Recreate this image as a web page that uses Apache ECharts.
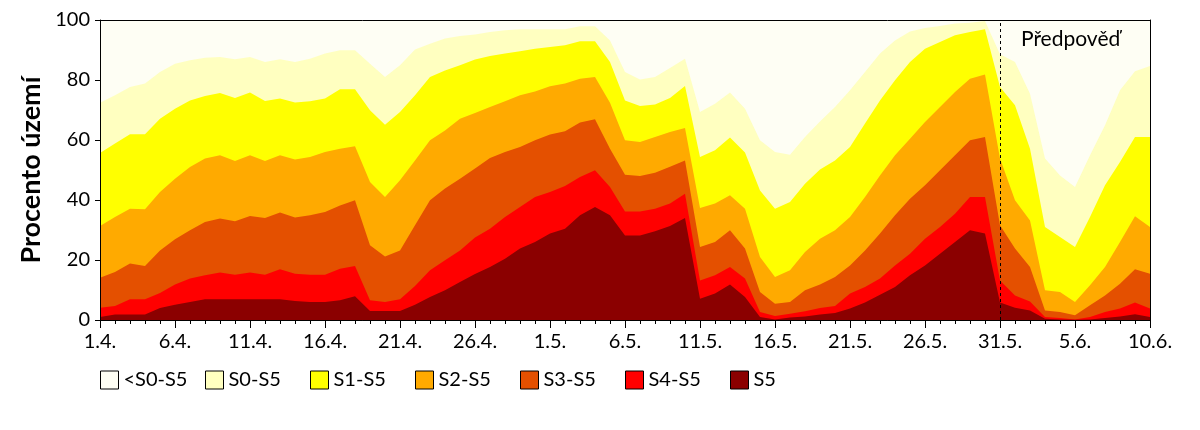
<!DOCTYPE html>
<html>
<head>
<meta charset="utf-8">
<title>Procento území</title>
<script src="https://cdn.jsdelivr.net/npm/echarts@6/dist/echarts.min.js"></script>
<style>
html,body{margin:0;padding:0;background:#fff;}
#main{width:1200px;height:430px;}
</style>
</head>
<body>
<div id="main"></div>
<script>
// dny 1.4. - 10.6.
var dates = ['1.4.','2.4.','3.4.','4.4.','5.4.','6.4.','7.4.','8.4.','9.4.','10.4.',
	'11.4.','12.4.','13.4.','14.4.','15.4.','16.4.','17.4.','18.4.','19.4.','20.4.',
	'21.4.','22.4.','23.4.','24.4.','25.4.','26.4.','27.4.','28.4.','29.4.','30.4.',
	'1.5.','2.5.','3.5.','4.5.','5.5.','6.5.','7.5.','8.5.','9.5.','10.5.',
	'11.5.','12.5.','13.5.','14.5.','15.5.','16.5.','17.5.','18.5.','19.5.','20.5.',
	'21.5.','22.5.','23.5.','24.5.','25.5.','26.5.','27.5.','28.5.','29.5.','30.5.',
	'31.5.','1.6.','2.6.','3.6.','4.6.','5.6.','6.6.','7.6.','8.6.','9.6.',
	'10.6.']

// procento uzemi (kumulativne)
var belowS0 = [100,100,100,100,100,100,100,100,100,100, 100,100,100,100,100,100,100,100,100,100,
	100,100,100,100,100,100,100,100,100,100, 100,100,100,100,100,100,100,100,100,100,
	100,100,100,100,100,100,100,100,100,100, 100,100,100,100,100,100,100,100,100,100,
	100,100,100,100,100,100,100,100,100,100, 100]
var s0 = [72.4,74.9,77.7,78.8,82.7,85.4,86.6,87.4,87.7,86.9, 87.7,86.0,86.9,86.0,87.1,88.8,89.9,89.9,85.4,81.0,
	84.9,90.2,92.1,93.8,94.7,95.2,96.0,96.6,96.9,96.9, 96.9,96.9,97.9,97.9,93.2,82.7,80.2,81.0,84.0,87.1,
	69.3,72.1,75.8,70.4,59.9,56.0,55.1,61.0,66.2,71.0, 76.6,82.7,88.8,93.2,96.2,97.3,98.0,98.8,99.1,99.7,
	88.6,86.0,75.4,53.8,48.2,44.3,54.9,64.9,76.6,82.9, 84.7]
var s1 = [55.7,58.8,61.9,61.9,67.1,70.4,73.2,74.7,75.7,74.0, 75.8,73.0,73.8,72.5,72.9,73.8,76.9,76.9,69.9,65.1,
	69.3,74.9,81.0,83.2,84.9,86.8,88.0,88.8,89.6,90.4, 91.0,91.6,92.9,92.9,86.0,73.2,71.3,71.8,74.0,78.0,
	54.3,56.6,60.8,55.8,43.2,37.1,39.3,45.4,50.2,53.2, 57.7,65.5,73.2,79.9,86.0,90.4,92.7,94.9,96.0,96.9,
	77.7,71.6,57.1,31.0,27.7,24.3,34.3,44.9,52.7,61.0, 61.0]
var s2 = [31.3,34.3,37.1,36.9,42.7,47.1,51.0,53.8,54.9,53.0, 54.9,53.0,54.9,53.5,54.3,56.0,57.1,57.9,46.0,41.0,
	46.6,53.2,59.9,63.2,67.1,69.0,71.0,72.9,74.9,76.2, 77.9,78.8,80.4,81.0,72.4,59.9,59.3,61.0,62.7,64.0,
	37.3,38.8,41.6,37.1,21.0,14.3,16.6,22.7,27.1,29.9, 34.3,41.0,48.2,54.9,60.4,66.0,71.0,76.0,80.4,81.8,
	53.8,39.9,33.2,9.9,9.3,6.0,11.6,17.7,26.0,34.6, 31.0]
var s3 = [14.1,16.0,18.8,18.0,23.2,26.9,29.9,32.7,33.8,32.9, 34.7,34.0,35.8,34.2,34.9,36.0,38.2,39.9,24.9,21.2,
	23.2,31.6,39.9,43.8,47.1,50.5,54.0,56.0,57.7,59.9, 61.8,62.9,65.8,66.9,57.1,48.4,48.0,49.1,51.1,53.2,
	24.3,26.0,29.9,23.8,9.3,5.4,6.0,9.9,11.8,14.3, 18.2,23.2,28.8,34.9,40.4,44.9,49.9,54.9,59.9,61.0,
	31.6,23.8,17.7,3.2,2.7,1.6,4.9,8.2,12.1,16.9, 15.4]
var s4 = [4.1,4.7,6.9,6.9,9.0,11.8,13.8,14.9,15.8,15.1, 15.8,15.1,16.9,15.4,15.1,15.1,17.1,18.0,6.6,6.0,
	6.9,11.3,16.6,19.9,23.2,27.5,30.4,34.3,37.7,41.0, 42.7,44.7,47.7,49.9,44.3,36.2,36.2,37.1,38.8,42.1,
	13.2,14.9,17.7,13.8,2.7,1.3,2.1,2.9,4.0,4.7, 8.8,11.0,13.8,18.2,22.1,27.1,31.0,35.4,41.0,41.0,
	13.2,8.2,6.2,1.0,0.7,0.2,1.0,2.7,3.8,5.8, 3.8]
var s5 = [1.0,1.8,1.8,1.8,4.0,5.1,6.0,6.9,6.9,6.9, 6.9,6.9,6.9,6.3,6.0,6.0,6.6,7.9,3.0,3.0,
	3.0,5.1,7.7,9.9,12.7,15.3,17.7,20.4,23.8,26.0, 28.8,30.4,34.9,37.7,34.9,28.2,28.2,29.6,31.3,34.0,
	7.1,8.8,11.8,7.7,1.0,0.2,0.8,1.2,1.8,2.3, 3.8,5.8,8.4,11.0,14.9,18.2,22.1,26.0,29.9,28.8,
	5.8,4.1,3.2,0.4,0.2,0.1,0.2,0.7,1.2,1.9, 1.0]

var names = ['<S0-S5','S0-S5','S1-S5','S2-S5','S3-S5','S4-S5','S5']
var colors = ['#FEFEF4','#FFFFC0','#FFFF00','#FFAA00','#E45000','#FF0000','#8B0000']
var forecastFrom = '31.5.'
var forecastLabel = 'Předpověď'
var yName = 'Procento území'

var chart = echarts.init(document.getElementById('main'))
var values = [belowS0, s0, s1, s2, s3, s4, s5]
var font = 'Lato'
var series = []
var legends = []
for(var i=0;i<values.length;i++){
	series.push({
		name:names[i],
		type:'line',
		data:values[i],
		symbol:'none',
		color:colors[i],
		lineStyle:{width:0},
		areaStyle:{color:colors[i], opacity:1},
		silent:true
	})
	// legenda - kazda polozka ma stejne siroky slot
	legends.push({
		data:[names[i]],
		left:100 + i*105,
		top:370,
		padding:0,
		itemWidth:18,
		itemHeight:18,
		icon:'rect',
		selectedMode:false,
		itemStyle:{borderColor:'#000', borderWidth:1},
		textStyle:{fontSize:20, color:'#000', fontFamily:font}
	})
}
// hranice predpovedi
series[series.length-1].markLine = {
	silent:true,
	symbol:['none','none'],
	label:{show:false},
	lineStyle:{color:'#000', type:[3,3], width:1},
	data:[{xAxis:forecastFrom}]
}

option = {
	animation:false,
	backgroundColor:'#fff',
	textStyle:{fontFamily:font, color:'#000'},
	grid:{left:100, right:50, top:20, bottom:110, outerBoundsMode:'none'},
	legend:legends,
	xAxis:[
		{
			type:'category', data:dates, boundaryGap:false, position:'bottom', z:10,
			axisLine:{onZero:false, lineStyle:{color:'#000', width:1}},
			axisTick:{interval:0, length:4, lineStyle:{color:'#000'}},
			axisLabel:{show:false}, splitLine:{show:false}
		},
		{
			type:'category', data:dates, boundaryGap:false, position:'bottom', z:10,
			axisLine:{onZero:false, lineStyle:{color:'#000', width:1}},
			axisTick:{interval:4, length:8, lineStyle:{color:'#000'}},
			axisLabel:{interval:4, fontSize:20, color:'#000', margin:12, fontFamily:font},
			splitLine:{show:false}
		},
		{
			type:'category', data:dates, boundaryGap:false, position:'top', z:10,
			axisLine:{onZero:false, lineStyle:{color:'#000', width:1}},
			axisTick:{show:false}, axisLabel:{show:false}, splitLine:{show:false}
		}
	],
	yAxis:[
		{
			type:'value', min:0, max:100, interval:20, z:10,
			name:yName, nameLocation:'middle', nameGap:52,
			nameTextStyle:{fontSize:27, fontWeight:'bold', color:'#000', fontFamily:font},
			axisLine:{show:true, lineStyle:{color:'#000', width:1}},
			axisTick:{show:true, length:5, lineStyle:{color:'#000'}},
			axisLabel:{fontSize:20, color:'#000', margin:10, fontFamily:font},
			splitLine:{show:false}
		},
		{
			type:'value', min:0, max:100, position:'right', z:10,
			axisLine:{show:true, lineStyle:{color:'#000', width:1}},
			axisTick:{show:false}, axisLabel:{show:false}, splitLine:{show:false}
		}
	],
	graphic:[
		{type:'text', left:1021, top:29, z:100, silent:true,
			style:{text:forecastLabel, fontSize:21, fontFamily:font, fill:'#000'}}
	],
	series:series
}
chart.setOption(option)
</script>
</body>
</html>
